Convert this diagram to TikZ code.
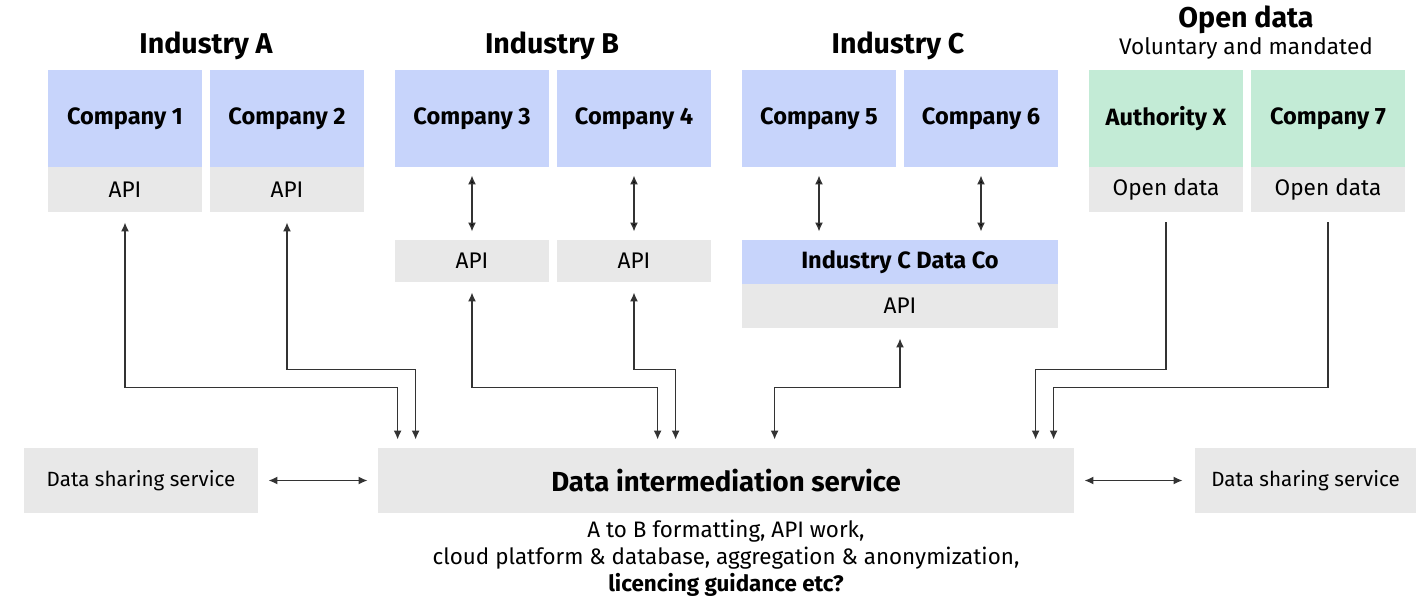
\documentclass[tikz,border=0pt]{standalone}
\usepackage{fontspec}
\setmainfont{Fira Sans}
\usetikzlibrary{arrows.meta,positioning,calc}
\definecolor{coblue}{HTML}{C7D4FB}
\definecolor{apigrey}{HTML}{E8E8E8}
\definecolor{opengreen}{HTML}{C3EBD6}
\definecolor{linegrey}{HTML}{333333}

\begin{document}
\begin{tikzpicture}[x=0.5pt,y=-0.5pt,
  company/.style={rectangle, fill=coblue, inner sep=0pt, minimum width=77pt, minimum height=48.5pt, font=\bfseries\fontsize{11.8}{14}\selectfont},
  opencompany/.style={company, fill=opengreen},
  api/.style={rectangle, fill=apigrey, inner sep=0pt, minimum width=77pt, minimum height=22.5pt, font=\fontsize{11.3}{13}\selectfont},
  service/.style={rectangle, fill=apigrey, inner sep=0pt, minimum height=32.5pt, font=\fontsize{10.3}{12}\selectfont},
  industry/.style={font=\bfseries\fontsize{14.3}{17}\selectfont},
  link/.style={draw=linegrey, line width=0.8pt, -{Latex[length=4.5pt,width=4pt]}},
  biglink/.style={link, {Latex[length=4.5pt,width=4pt]}-{Latex[length=4.5pt,width=4pt]}}]

  \useasboundingbox (0,0) rectangle (1416,599);

  % industry headings
  \node (ia) [industry] at (206,46) {Industry A};
  \node (ib) [industry] at (552,46) {Industry B};
  \node (ic) [industry] at (898,46) {Industry C};
  \node (od) [industry] at (1246,20) {Open data};
  \node (odsub) [font=\fontsize{11.3}{13}\selectfont] at (1246,48) {Voluntary and mandated};

  % industry A
  \node (c1) [company] at (125,118.5) {Company 1};
  \node (c2) [company] at (287,118.5) {Company 2};
  \node (api1) [api] at (125,189.5) {API};
  \node (api2) [api] at (287,189.5) {API};

  % industry B
  \node (c3) [company] at (472,118.5) {Company 3};
  \node (c4) [company] at (634,118.5) {Company 4};
  \node (api3) [api, minimum height=21pt] at (472,261) {API};
  \node (api4) [api, minimum height=21pt] at (634,261) {API};

  % industry C
  \node (c5) [company] at (819,118.5) {Company 5};
  \node (c6) [company] at (981,118.5) {Company 6};
  \node (dataco) [company, minimum width=158pt, minimum height=22pt] at (900,262) {Industry C Data Co};
  \node (apic) [api, minimum width=158pt, minimum height=22pt] at (900,306) {API};

  % open data
  \node (ax) [opencompany] at (1166,118.5) {Authority X};
  \node (c7) [opencompany] at (1328,118.5) {Company 7};
  \node (odx) [api] at (1166,189.5) {Open data};
  \node (od7) [api] at (1328,189.5) {Open data};

  % services
  \node (dsl) [service, minimum width=117pt] at (141,480.5) {Data sharing service};
  \node (dis) [service, minimum width=348pt, font=\bfseries\fontsize{13.8}{16}\selectfont] at (726,480.5) {Data intermediation service};
  \node (dsr) [service, minimum width=110.5pt] at (1305.5,480.5) {Data sharing service};
  \node (note) [align=center, font=\fontsize{11.2}{13.5}\selectfont] at (726,558)
    {A to B formatting, API work,\\ cloud platform \& database, aggregation \& anonymization,\\ \textbf{licencing guidance etc?}};

  \path [biglink, shorten <=4pt, shorten >=4pt]
  (c3) edge (api3)
  (c4) edge (api4)
  (c5) edge (dataco.north -| c5)
  (c6) edge (dataco.north -| c6);

  \draw [biglink, shorten <=5pt, shorten >=5pt] (dsl) -- (dis);
  \draw [biglink, shorten <=5pt, shorten >=6pt] (dis) -- (dsr);

  \draw [biglink, shorten <=5pt, shorten >=4pt] (api1.south) |- ($(dis.north west)+(20,-60)$) -- ($(dis.north west)+(20,0)$);
  \draw [biglink, shorten <=5pt, shorten >=4pt] (api2.south) |- ($(dis.north west)+(38,-78)$) -- ($(dis.north west)+(38,0)$);
  \draw [biglink, shorten <=5pt, shorten >=4pt] (api3.south) |- ($(dis.north west)+(280,-60)$) -- ($(dis.north west)+(280,0)$);
  \draw [biglink, shorten <=5pt, shorten >=4pt] (api4.south) |- ($(dis.north west)+(298,-78)$) -- ($(dis.north west)+(298,0)$);
  \draw [biglink, shorten <=5pt, shorten >=4pt] (apic.south) |- ($(dis.north west)+(397,-60)$) -- ($(dis.north west)+(397,0)$);
  \draw [link, shorten <=5pt, shorten >=4pt] (odx.south) |- ($(dis.north west)+(658,-78)$) -- ($(dis.north west)+(658,0)$);
  \draw [link, shorten <=5pt, shorten >=4pt] (od7.south) |- ($(dis.north west)+(676,-60)$) -- ($(dis.north west)+(676,0)$);
\end{tikzpicture}
\end{document}
